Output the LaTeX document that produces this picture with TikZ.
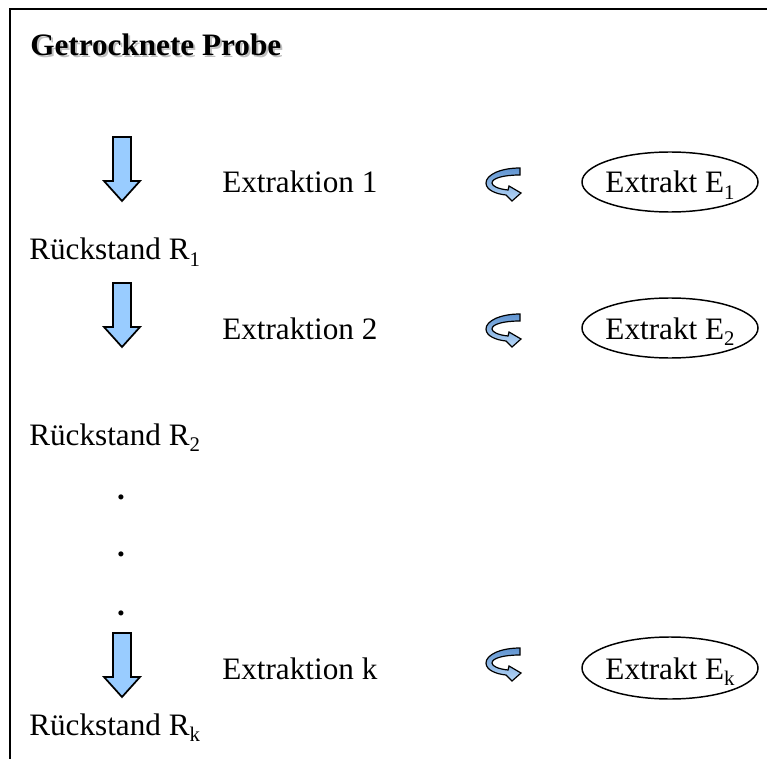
\documentclass[tikz,border=0pt]{standalone}
\usepackage{fontspec}
\setmainfont{Liberation Serif}
\definecolor{arrowblue}{HTML}{99CCFF}
\definecolor{turndark}{HTML}{5F93D0}
\definecolor{turnlight}{HTML}{B8D8F8}
\newcommand\lbl{\fontsize{23.4pt}{28pt}\selectfont}
\newcommand\subidx[1]{\raisebox{-5pt}{\fontsize{15.6pt}{18pt}\selectfont #1}}
\begin{document}
\begin{tikzpicture}[x=0.75pt,y=-0.75pt,
  frameline/.style={line width=1.5pt},
  label/.style={anchor=base west, inner sep=0pt, font=\lbl},
  extract/.style={draw=black, line width=1.1pt},
  etext/.style={anchor=base, inner sep=0pt, font=\lbl},
  dotmark/.style={anchor=base, inner sep=0pt, font=\lbl\bfseries},
  flow/.style={fill=arrowblue, draw=black, line width=1.3pt, line join=miter},
  turn/.style={draw=black, line width=0.9pt, top color=turndark, bottom color=turnlight},
  downarrow/.pic={
    \filldraw[flow] (-9,0) -- (9,0) -- (9,44) -- (18,44) -- (0,64) -- (-18,44) -- (-9,44) -- cycle;
  },
  turnarrow/.pic={
    \shade[turn] (34,1) .. controls (14,1) and (0,8) .. (0,16)
      .. controls (0,23) and (10,27) .. (20,28)
      -- (26,34) -- (35,26) -- (23,19) -- (22,23)
      .. controls (12,22) and (6,19) .. (6,16)
      .. controls (6,11) and (18,8) .. (34,8) -- cycle;
  }]
\useasboundingbox (0,0) rectangle (767,759);

% open frame: top and left edges only
\coordinate (ftl) at (10,9);
\coordinate (ftr) at (767,9);
\coordinate (fbl) at (10,759);
\draw[frameline] (ftr) -- (ftl) -- (fbl);

% title with drop shadow
\node[label, font=\lbl\bfseries, text=gray!50] (titleshadow) at (32,58) {Getrocknete Probe};
\node[label, font=\lbl\bfseries] (title) at (30,56) {Getrocknete Probe};

% step 1
\pic (down1) at (122,137) {downarrow};
\node[label] (ex1) at (222,193) {Extraktion 1};
\pic (turn1) at (486,167) {turnarrow};
\coordinate (e1) at (670,182);
\draw[extract] (e1) ellipse [x radius=88, y radius=30];
\node[etext] (e1t) at (670,193) {Extrakt E\subidx{1}};
\node[label] (r1) at (29,260) {Rückstand R\subidx{1}};

% step 2
\pic (down2) at (122,283) {downarrow};
\node[label] (ex2) at (222,339) {Extraktion 2};
\pic (turn2) at (486,313) {turnarrow};
\coordinate (e2) at (670,328);
\draw[extract] (e2) ellipse [x radius=88, y radius=30];
\node[etext] (e2t) at (670,339) {Extrakt E\subidx{2}};
\node[label] (r2) at (29,445) {Rückstand R\subidx{2}};

% ellipsis dots
\node[dotmark] (d1) at (121,499) {.};
\node[dotmark] (d2) at (121,556) {.};
\node[dotmark] (d3) at (121,615) {.};

% step k
\pic (downk) at (122,633) {downarrow};
\node[label] (exk) at (222,679) {Extraktion k};
\pic (turnk) at (486,647) {turnarrow};
\coordinate (ek) at (670,668);
\draw[extract] (ek) ellipse [x radius=88, y radius=31];
\node[etext] (ekt) at (670,679) {Extrakt E\subidx{k}};
\node[label] (rk) at (29,735) {Rückstand R\subidx{k}};
\end{tikzpicture}
\end{document}
